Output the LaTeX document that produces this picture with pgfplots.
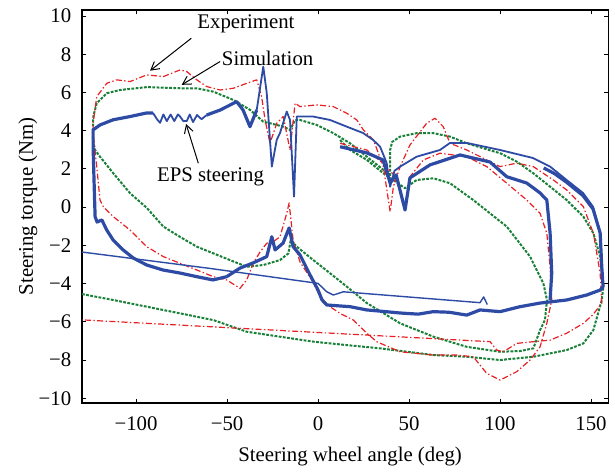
\documentclass[border=0pt]{standalone}
\usepackage{pgfplots}
\pgfplotsset{compat=1.18}
\usepackage{fontspec}
\setmainfont{Liberation Serif}
\usetikzlibrary{arrows.meta}
\definecolor{cblue}{RGB}{45,75,165}
\definecolor{cred}{RGB}{232,32,36}
\definecolor{cgreen}{RGB}{25,128,55}
\begin{document}
\fontsize{10.4}{12.5}\selectfont
\begin{tikzpicture}
\begin{axis}[
 scale only axis, width=263.35pt, height=196.65pt,
 xmin=-129.7, xmax=159.7, ymin=-10.25, ymax=10.33,
 xtick={-100,-50,0,50,100,150}, xticklabels={−100,−50,0,50,100,150},
 ytick={-10,-8,...,10}, yticklabels={−10,−8,−6,−4,−2,0,2,4,6,8,10},
 tick align=inside, major tick length=2.2pt, tick style={black, line width=0.5pt},
 axis line style={line width=0.8pt},
 xticklabel style={yshift=-3pt}, yticklabel style={xshift=-1.7pt},
 xlabel={Steering wheel angle (deg)}, ylabel={Steering torque (Nm)},
 xlabel style={at={(rel axis cs:0.509,-0.135)}, anchor=center},
 ylabel style={at={(rel axis cs:-0.1025,0.5)}, anchor=center},
 clip=false,
]
\path (rel axis cs:-0.1557,-0.1653) rectangle (rel axis cs:1.012,1.0247);
% Simulation (green)
\addplot[cgreen, line width=1pt, line join=round, dash pattern=on 1.4pt off 0.7pt] coordinates {
(12.1,3.51) (17.6,2.99) (26.8,2.47) (35.9,1.77) (47.8,0.99) (54.2,1.42) (63.4,1.51) (72.5,1.25) (85.3,0.37) (103.7,-1.02) (116.5,-2.59) (123.8,-3.99) (125.8,-4.86) (124.7,-5.9) (122,-6.43) (118.3,-7.39) (111,-7.53) (100,-7.57) (81.7,-7.31) (63.4,-6.78) (45.1,-6.08) (26.8,-5.02) (15.8,-4.16) (6.6,-3.46) (-2.6,-2.77) (-11.7,-2.07) (-15.0,-1.72) (-16.3,-2.42) (-20.9,-2.77) (-30.1,-3.03) (-39.2,-3.12) (-48.4,-2.77) (-57.5,-2.42) (-66.6,-2.07) (-75.8,-1.56) (-85,-1.02) (-94.1,-0.04) (-103.3,0.73) (-112.5,1.77) (-119.8,2.64) (-122.5,2.99) (-123.8,3.52) (-123.5,4.74) (-121.6,5.44) (-116.1,5.96) (-108.8,6.13) (-94.1,6.28) (-75.8,6.22) (-66.6,6.22) (-57.5,6.04) (-46.5,5.61) (-37.4,5.09) (-30.1,4.47) (-26.4,4.39) (-19.1,4.21) (-15.4,4.04) (-12.6,4.56) (-9.9,4.56) (-0.7,4.30) (8.4,3.87) (17.6,3.34) (26.8,2.64) (35.9,1.95) (39.6,1.59) (39.6,2.99) (40.7,3.41) (45.1,3.69) (54.2,3.87) (63.4,3.87) (72.5,3.69) (81.7,3.34) (90.8,3.08) (100,2.82) (109.2,2.38) (118.3,1.77) (127.5,1.07) (136.6,0.37) (145.8,-0.5) (151.3,-1.37) (155,-2.59) (155.9,-3.46) (156.8,-4.16) (155.9,-4.86) (151.3,-6.43) (145.8,-7.13) (136.6,-7.48) (118.3,-7.83) (100,-8.0) (81.7,-7.83) (63.4,-7.74) (34.1,-7.39) (15.8,-7.22) (-2.6,-7.04) (-20.9,-6.78) (-39.2,-6.52) (-57.5,-5.91) (-75.8,-5.56) (-94.1,-5.21) (-112.5,-4.86) (-129.7,-4.55)
};
% Experiment (red)
\addplot[cred, line width=0.6pt, line join=round, dash pattern=on 3pt off 1.2pt on 0.7pt off 1.2pt] coordinates {
(12.1,3.34) (26.8,2.99) (36.8,2.21) (44,1.42) (47.8,-0.15) (50.5,1.59) (57.9,2.47) (67,2.82) (81.7,2.64) (92.7,2.12) (103.7,1.25) (114.7,0.37) (122,-0.32) (125.7,-1.37) (127.5,-3.12) (128.4,-4.86) (125.7,-6.08) (122,-7.31) (116.5,-8.0) (109.2,-8.61) (100,-9.05) (92.7,-8.7) (85.3,-7.83) (76.2,-7.74) (63.4,-7.74) (45.1,-7.57) (32.2,-7.04) (26.8,-6.6) (19.4,-5.91) (12.1,-5.56) (6.6,-5.21) (1.1,-4.69) (-2.7,-3.92) (-9.9,-2.87) (-13.7,-1.72) (-15.9,0.22) (-17.2,-0.32) (-20.9,-1.55) (-24.6,-1.81) (-28.2,-1.89) (-31.9,-2.35) (-35.6,-2.94) (-39.2,-3.81) (-42.9,-4.25) (-50.2,-3.81) (-57.5,-3.64) (-66.6,-3.29) (-75.8,-2.94) (-85,-2.59) (-94.1,-2.07) (-103.3,-1.2) (-112.5,-0.5) (-118,0.02) (-119.8,0.37) (-121.6,2.12) (-123.6,3.87) (-123.6,4.41) (-121.6,5.78) (-116.1,6.48) (-110.6,6.66) (-103.3,6.57) (-94.1,6.92) (-85,6.83) (-75.8,7.18) (-72.1,7.09) (-66.6,6.66) (-61.2,6.31) (-53.8,6.13) (-46.5,6.22) (-39.2,6.48) (-33.7,6.66) (-31,5.78) (-29.1,4.56) (-26.4,3.34) (-22.7,4.39) (-19.1,4.74) (-15.4,2.99) (-12.6,5.44) (-9.9,5.26) (-0.7,5.35) (8.4,5.26) (15.8,4.91) (21.3,4.56) (24.9,4.04) (30.4,3.52) (35.9,2.12) (39.6,-0.24) (41.4,1.07) (45.1,2.12) (50.5,3.25) (59.7,4.39) (64.3,4.65) (68.8,4.21) (72.5,3.34) (81.7,2.99) (90.8,2.56) (100,2.12) (109.2,2.30) (118.3,2.12) (129.3,1.42) (136.6,0.9) (145.8,0.02) (151.3,-1.37) (155,-3.46) (155.9,-5.03) (151.3,-5.6) (145.8,-6.08) (136.6,-6.6) (127.5,-6.96) (118.3,-7.04) (109.2,-7.13) (101.8,-7.57) (98.2,-7.48) (94.5,-7.04) (-129.7,-5.9)
};
% EPS steering (blue)
\addplot[cblue, line width=0.7pt, line join=round] coordinates {
(-129.7,-2.35) (-60,-3.2) (0,-3.99) (4.8,-4.43) (8.4,-4.6) (13.9,-4.43) (89,-5.0) (91,-4.7) (93,-5.1)
};
\addplot[cblue, line width=1.6pt, line join=round] coordinates {
(-50.2,-3.64) (-57.7,-3.81) (-66.6,-3.64) (-75.8,-3.45) (-85.2,-3.29) (-94.1,-3.03) (-101.6,-2.66) (-107.1,-2.24) (-112.6,-1.72) (-116.1,-1.20) (-118.8,-0.67) (-121.4,-0.78) (-122.5,-0.5) (-123.1,1.42) (-123.6,3.16) (-123.6,4.04) (-119.8,4.3) (-112.6,4.57) (-103.3,4.74) (-94.1,4.93) (-90.7,4.93)
};
\addplot[cblue, line width=0.9pt, line join=round] coordinates {
(-90.7,4.93) (-88.5,4.6) (-86.8,4.41) (-85,4.85) (-83.1,4.5) (-81,4.85) (-79,4.5) (-77,4.85) (-75.8,4.74) (-74,4.5) (-72.1,4.51) (-70.5,4.85) (-68.7,4.45) (-66.5,4.82) (-64,4.6) (-61.2,4.82)
};
\addplot[cblue, line width=1.6pt, line join=round] coordinates {
(-61.2,4.82) (-53.8,5.08) (-44.7,5.52) (-41.2,5.08) (-37.4,4.21) (-33.7,5.08)
};
\addplot[cblue, line width=0.9pt, line join=round] coordinates {
(-33.7,5.08) (-30.1,7.35) (-28.2,5.98) (-25.4,2.12) (-22.7,3.52) (-20.9,3.88) (-17.2,5.0) (-15.4,4.56) (-13.2,0.55) (-11.7,4.74) (-2.7,4.74) (6.6,4.56) (15.8,4.21) (24.7,3.88) (30.2,3.52) (34.1,3.16) (37.7,2.31) (39.6,1.07) (42,1.9) (45.1,2.12) (54.2,2.64) (67.0,2.99) (72.5,3.36) (81.7,3.36) (100,2.99) (118.1,2.57) (127.5,2.12) (136.6,1.42) (145.6,0.74) (151.1,0.02) (155,-1.35)
};
\addplot[cblue, line width=1.6pt, line join=round] coordinates {
(124,2.05) (130,1.75) (136.6,1.3) (145.6,0.6) (151.1,-0.1) (155,-1.35) (155.9,-3.12) (156.6,-4.16)
(155,-4.34) (147.6,-4.6) (136.6,-4.86) (122,-5.02) (111,-5.21) (100,-5.47) (89,-5.38) (81.7,-5.65) (72,-5.5) (63.2,-5.47) (55,-5.6) (45.1,-5.54) (35,-5.45) (26.8,-5.38) (17.6,-5.21) (4.8,-5.12) (2.2,-4.86) (0,-4.34) (-4.4,-3.55) (-9.9,-2.5) (-13.7,-2.07) (-15.9,-1.09) (-19.2,-1.88) (-23.6,-2.24) (-25.4,-1.55) (-28.2,-2.59) (-35.7,-2.92) (-42.9,-3.19) (-50.2,-3.64)
};
\addplot[cblue, line width=1.6pt, line join=round] coordinates {
(12.1,3.16) (26.8,2.84) (35.7,2.47) (39.6,1.27) (42.9,1.69) (47.8,-0.15) (50.5,1.53) (61.5,2.21) (78,2.73) (94.5,2.36) (103.7,1.59) (114.7,1.26) (122,0.74) (125.7,0.37) (127.5,-1.35) (128.4,-3.45) (127.5,-4.86)
};
% annotations
\node at (axis cs:-39.6,9.59) {Experiment};
\node at (axis cs:-27.7,7.8) {Simulation};
\node at (axis cs:-59.1,1.58) {EPS steering};
\draw[black, line width=0.5pt, -{Straight Barb[length=4pt,width=4.5pt]}] (axis cs:-69.6,8.84) -- (axis cs:-92.3,7.14);
\draw[black, line width=0.5pt, -{Straight Barb[length=4pt,width=4.5pt]}] (axis cs:-53.8,7.62) -- (axis cs:-74.9,6.4);
\draw[black, line width=0.5pt, -{Straight Barb[length=4pt,width=4.5pt]}] (axis cs:-65.8,2.3) -- (axis cs:-72.5,4.35);
\end{axis}
\end{tikzpicture}
\end{document}
